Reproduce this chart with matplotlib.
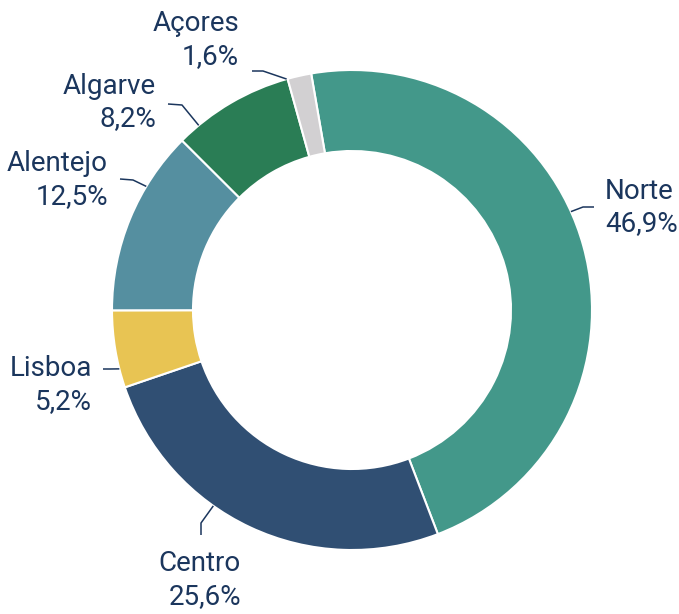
import numpy as np
import matplotlib.pyplot as plt

# Dados
regioes = ['Norte', 'Centro', 'Lisboa', 'Alentejo', 'Algarve', 'Açores']
percentagens = [46.9, 25.6, 5.2, 12.5, 8.2, 1.6]
cores = ['#43988A', '#304F73', '#E8C453', '#558FA0', '#2A7D55', '#D2D0D2']

# Layout dos rótulos (em pixels da imagem): ângulo do ponto de ligação (graus, sentido horário a partir do topo),
# cotovelo, fim da linha, posição do texto e alinhamento
rotulos_layout = {
    'Norte':    dict(ang=65.8,  cot=(583, 207), fim=(594, 207), txt=(605, 207.5), ha='left'),
    'Centro':   dict(ang=215.3, cot=(201, 523), fim=(201, 535), txt=(241, 580), ha='right'),
    'Lisboa':   dict(ang=255.8, cot=(110, 369), fim=(103, 369), txt=(92, 385), ha='right'),
    'Alentejo': dict(ang=301.0, cot=(133, 180), fim=(120, 179), txt=(108, 180), ha='right'),
    'Algarve':  dict(ang=320.3, cot=(182, 105), fim=(168, 104), txt=(156, 102.5), ha='right'),
    'Açores':   dict(ang=344.2, cot=(263, 71), fim=(252, 71), txt=(239, 40), ha='right'),
}

W, H = 679, 614
cx, cy, R = 352, 310, 240  # centro e raio do anel em pixels


def px2d(p):
    # converte pixel (origem no topo) para coordenadas de dados
    return ((p[0] - cx) / R, (cy - p[1]) / R)


plt.rcParams['font.family'] = ['Roboto', 'DejaVu Sans']
cor_texto = '#1B365D'

fig = plt.figure(figsize=(W / 100, H / 100), dpi=100)
ax = fig.add_axes([0, 0, 1, 1])

ax.pie(percentagens, colors=cores, startangle=99.8, counterclock=False, radius=1,
       wedgeprops=dict(width=0.3375, edgecolor='white', linewidth=1.5))

for nome, pct in zip(regioes, percentagens):
    lay = rotulos_layout[nome]
    a = np.deg2rad(lay['ang'])
    p0 = (np.sin(a), np.cos(a))
    p1 = px2d(lay['cot'])
    p2 = px2d(lay['fim'])
    ax.plot([p0[0], p1[0], p2[0]], [p0[1], p1[1], p2[1]], color=cor_texto, lw=1.1,
            solid_capstyle='butt')
    tx, ty = px2d(lay['txt'])
    texto = f"{nome}\n{pct:.1f}%".replace('.', ',')
    ax.text(tx, ty, texto, ha=lay['ha'], va='center', multialignment=lay['ha'],
            fontsize=20, color=cor_texto, linespacing=1.25)

ax.set_xlim(-cx / R, (W - cx) / R)
ax.set_ylim(-(H - cy) / R, cy / R)
ax.set_aspect('auto')
ax.axis('off')

fig.savefig('out.png', dpi=100)
